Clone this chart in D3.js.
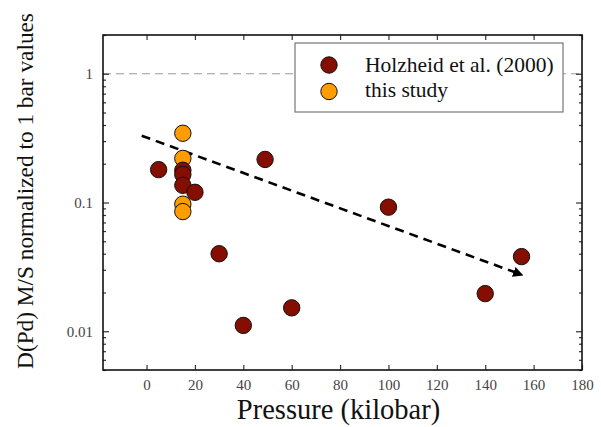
<!DOCTYPE html>
<html lang="en">
<head>
<meta charset="utf-8">
<title>D(Pd) vs pressure</title>
<script src="https://cdn.jsdelivr.net/npm/d3@7"></script>
<style>
  body { margin: 0; background: #fff; }
  .domain { display: none; }
</style>
</head>
<body>
<div id="chart"></div>
<script>
// data
var holzheidP = [5, 15, 15, 15, 20, 30, 40, 49, 60, 100, 140, 155];
var holzheidD = [0.18, 0.178, 0.165, 0.136, 0.12, 0.04, 0.0111, 0.216, 0.0152, 0.092, 0.0196, 0.038];
var studyP = [15, 15, 15, 15];
var studyD = [0.345, 0.22, 0.097, 0.085];
var trendP = [-2, 155];
var trendD = [0.33, 0.0275];
var xTicks = [0, 20, 40, 60, 80, 100, 120, 140, 160, 180];
var yMajor = [0.01, 0.1, 1];
var legendLabels = ["Holzheid et al. (2000)", "this study"];

var serif = "'Liberation Serif', Tinos, 'Times New Roman', Times, 'DejaVu Serif', serif";

var W = 601, H = 427;
var margin = {top: 35, right: 19, bottom: 57, left: 103};
var width = W - margin.left - margin.right;
var height = H - margin.top - margin.bottom;

var x = d3.scaleLinear().domain([-18, 180]).range([0, width]);
var y = d3.scaleLog().domain([0.005, 2]).range([height, 0]);

var yMinor = y.ticks().filter(function(d) { return yMajor.indexOf(d) < 0; });

var svg = d3.select("#chart").append("svg")
    .attr("width", W).attr("height", H)
    .attr("font-family", serif);

svg.append("defs").append("marker")
    .attr("id", "arrow")
    .attr("viewBox", "0 0 10 10")
    .attr("refX", 8).attr("refY", 5)
    .attr("markerWidth", 4).attr("markerHeight", 4)
    .attr("orient", "auto")
    .append("path").attr("d", "M0,0 L10,5 L0,10 z").attr("fill", "#000");

var g = svg.append("g")
    .attr("transform", "translate(" + margin.left + "," + margin.top + ")");

// reference line at 1
g.append("line")
    .attr("x1", 0).attr("x2", width)
    .attr("y1", y(1)).attr("y2", y(1))
    .attr("stroke", "#9a9a9a").attr("stroke-width", 1.2)
    .attr("stroke-dasharray", "8,5");

// axes, ticks pointing inward
g.append("g").attr("transform", "translate(0," + height + ")")
    .call(d3.axisBottom(x).tickValues(xTicks).tickSize(-5).tickPadding(9).tickFormat(d3.format("d")));
g.append("g")
    .call(d3.axisTop(x).tickValues(xTicks).tickSize(-5).tickFormat(""));
g.append("g")
    .call(d3.axisLeft(y).tickValues(yMajor).tickSize(-6).tickPadding(10).tickFormat(function(d) { return String(d); }));
g.append("g")
    .call(d3.axisLeft(y).tickValues(yMinor).tickSize(-3).tickFormat(""));
g.append("g").attr("transform", "translate(" + width + ",0)")
    .call(d3.axisRight(y).tickValues(yMajor).tickSize(-6).tickFormat(""));
g.append("g").attr("transform", "translate(" + width + ",0)")
    .call(d3.axisRight(y).tickValues(yMinor).tickSize(-3).tickFormat(""));
g.selectAll(".tick line").attr("stroke", "#333").attr("stroke-width", 1.2);
g.selectAll(".tick text").attr("fill", "#444").attr("font-size", 15);

// frame
g.append("rect")
    .attr("width", width).attr("height", height)
    .attr("fill", "none").attr("stroke", "#111").attr("stroke-width", 1.6);

// trend line
g.append("line")
    .attr("x1", x(trendP[0])).attr("y1", y(trendD[0]))
    .attr("x2", x(trendP[1])).attr("y2", y(trendD[1]))
    .attr("stroke", "#000").attr("stroke-width", 2.6)
    .attr("stroke-dasharray", "9,6")
    .attr("marker-end", "url(#arrow)");

// points
var r = 8.2;
g.selectAll(".study").data(studyP).enter().append("circle")
    .attr("class", "study")
    .attr("cx", function(d) { return x(d); })
    .attr("cy", function(d, i) { return y(studyD[i]); })
    .attr("r", r).attr("fill", "#ff9c00").attr("stroke", "#111").attr("stroke-width", 1);
g.selectAll(".holz").data(holzheidP).enter().append("circle")
    .attr("class", "holz")
    .attr("cx", function(d) { return x(d); })
    .attr("cy", function(d, i) { return y(holzheidD[i]); })
    .attr("r", r).attr("fill", "#850e00").attr("stroke", "#111").attr("stroke-width", 1);

// legend
var lg = svg.append("g");
lg.append("rect")
    .attr("x", 295).attr("y", 43).attr("width", 268).attr("height", 69)
    .attr("fill", "#fff").attr("stroke", "#777").attr("stroke-width", 1.2);
var legendColors = ["#850e00", "#ff9c00"];
legendLabels.forEach(function(t, i) {
    lg.append("circle").attr("cx", 329).attr("cy", 65 + i * 26.5).attr("r", 8.2)
        .attr("fill", legendColors[i]).attr("stroke", "#111").attr("stroke-width", 1);
    lg.append("text").attr("x", 365).attr("y", 71.5 + i * 25.5)
        .attr("font-size", 21.5).attr("fill", "#111").text(t);
});

// axis titles
svg.append("text")
    .attr("x", margin.left + width / 2 - 4).attr("y", 419)
    .attr("text-anchor", "middle").attr("font-size", 28.5).attr("fill", "#111")
    .text("Pressure (kilobar)");
svg.append("text")
    .attr("transform", "translate(33,191) rotate(-90)")
    .attr("text-anchor", "middle").attr("font-size", 23.3).attr("fill", "#111")
    .text("D(Pd) M/S normalized to 1 bar values");

svg.selectAll("text").style("font-family", serif);
</script>
</body>
</html>
